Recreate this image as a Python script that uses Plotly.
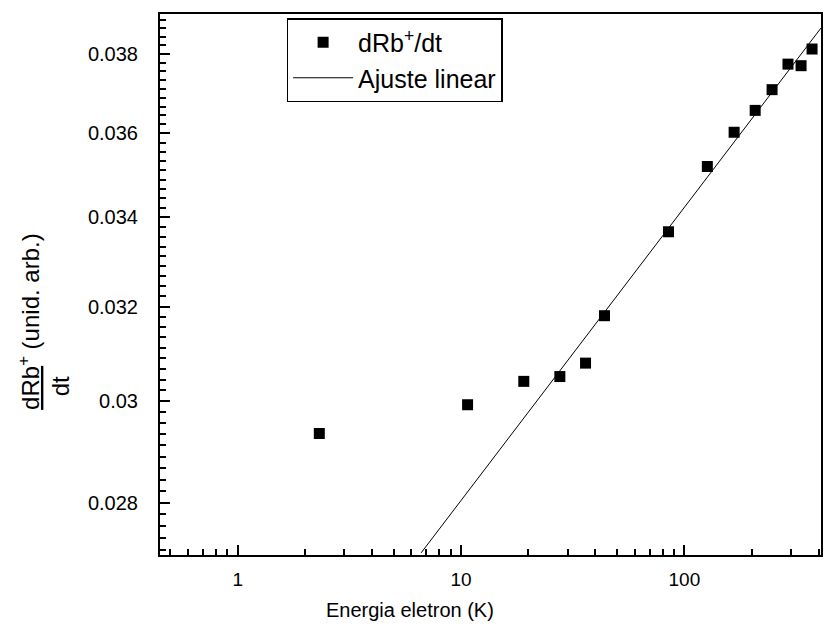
import plotly.graph_objects as go
import math

# ---- data ----
energy_K = [2.32, 10.7, 19.1, 27.7, 36.1, 43.9, 84.9, 126.7, 167, 207.5, 247, 291, 333, 373]
drb_dt = [0.02935, 0.02993, 0.03041, 0.03051, 0.03079, 0.03180, 0.03367, 0.03520,
          0.03603, 0.03657, 0.03709, 0.03774, 0.03770, 0.03813]

fit_x = [6.63, 409]
fit_y = [0.02706, 0.03868]

x_tickvals = [1, 10, 100]
x_ticktext = ["1", "10", "100"]
x_minor = [0.5, 0.6, 0.7, 0.8, 0.9, 2, 3, 4, 5, 6, 7, 8, 9,
           20, 30, 40, 50, 60, 70, 80, 90, 200, 300, 400]

y_tickvals = [0.028, 0.030, 0.032, 0.034, 0.036, 0.038]
y_ticktext = ["0.028", "0.03", "0.032", "0.034", "0.036", "0.038"]

x_range = [0.449, 409]
y_range = [0.02702, 0.03905]

# minor y ticks: 8 between consecutive majors
y_minor = []
for k in range(7):
    base = 0.026 + 0.002 * k
    for j in range(1, 9):
        y_minor.append(base + 0.002 * j / 9)

FONT = "Liberation Sans, Arial, sans-serif"

fig = go.Figure()
fig.add_trace(go.Scatter(
    x=energy_K, y=drb_dt, mode="markers",
    name="dRb<sup>+</sup>/dt",
    marker=dict(symbol="square", size=11, color="black"),
))
fig.add_trace(go.Scatter(
    x=fit_x, y=fit_y, mode="lines",
    name="Ajuste linear",
    line=dict(color="black", width=1),
))

fig.update_layout(
    width=825, height=626,
    margin=dict(l=160, r=2, t=14, b=71),
    paper_bgcolor="white", plot_bgcolor="white",
    font=dict(family=FONT, size=20, color="black"),
    showlegend=True,
    legend=dict(
        x=(287 - 160) / 663, y=(555 - 18) / 541, xanchor="left", yanchor="top",
        bgcolor="white", bordercolor="black", borderwidth=1.5,
        font=dict(family=FONT, size=25, color="black"),
        itemwidth=60, tracegroupgap=0,
    ),
)

fig.update_xaxes(
    type="log", range=[math.log10(x_range[0]), math.log10(x_range[1])],
    tickmode="array", tickvals=x_tickvals, ticktext=x_ticktext,
    ticks="inside", ticklen=10, tickwidth=2, tickcolor="black",
    showline=True, linecolor="black", linewidth=2, mirror=True,
    showgrid=False, zeroline=False,
    tickfont=dict(family=FONT, size=19, color="black"),
    ticklabelstandoff=6,
    minor=dict(tickmode="array", tickvals=x_minor, ticks="inside",
               ticklen=6, tickwidth=2, tickcolor="black", showgrid=False),
)
fig.update_yaxes(
    type="log", range=[math.log10(y_range[0]), math.log10(y_range[1])],
    tickmode="array", tickvals=y_tickvals, ticktext=y_ticktext,
    ticks="inside", ticklen=10, tickwidth=2, tickcolor="black",
    showline=True, linecolor="black", linewidth=2, mirror=True,
    showgrid=False, zeroline=False,
    tickfont=dict(family=FONT, size=20, color="black"),
    ticklabelstandoff=16,
    minor=dict(tickmode="array", tickvals=y_minor, ticks="inside",
               ticklen=6, tickwidth=2, tickcolor="black", showgrid=False),
)

# axis titles
fig.add_annotation(
    text="Energia eletron (K)", xref="paper", yref="paper",
    x=(411 - 160) / 663, y=(555 - 610) / 541, xanchor="center", yanchor="middle",
    showarrow=False, font=dict(family=FONT, size=20, color="black"),
)
fig.add_annotation(
    text="<u>dRb</u><sup>+</sup> (unid. arb.)", xref="paper", yref="paper",
    x=(28 - 160) / 663, y=(555 - 412) / 541, xanchor="center", yanchor="bottom",
    textangle=-90, showarrow=False, font=dict(family=FONT, size=24, color="black"),
)
fig.add_annotation(
    text="dt", xref="paper", yref="paper",
    x=(60 - 160) / 663, y=(555 - 386) / 541, xanchor="center", yanchor="middle",
    textangle=-90, showarrow=False, font=dict(family=FONT, size=24, color="black"),
)

fig.write_html("out.html", config={"displayModeBar": False})
